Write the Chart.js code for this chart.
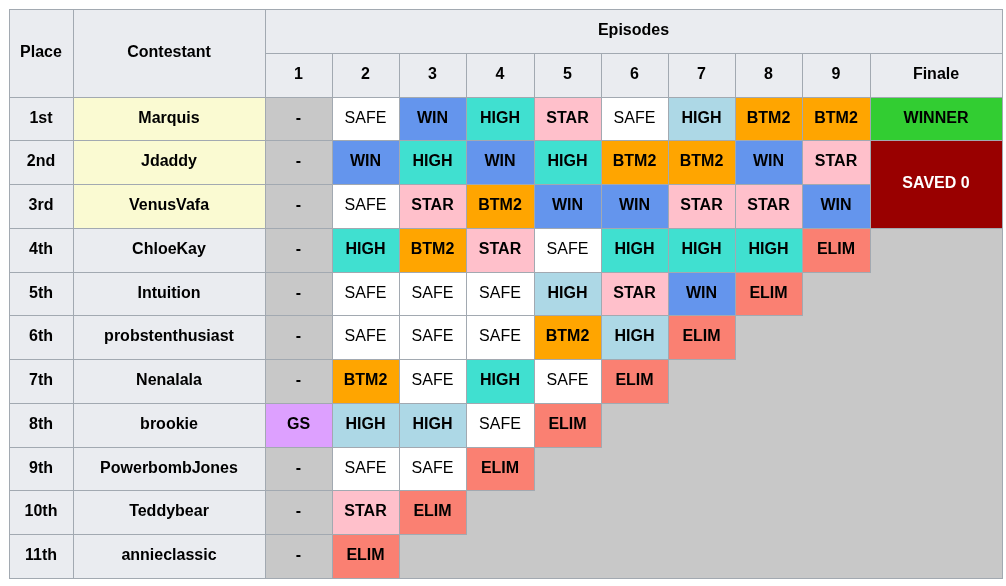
<!DOCTYPE html>
<html><head><meta charset="utf-8">
<script src="https://cdn.jsdelivr.net/npm/chart.js@4"></script>
<style>html,body{margin:0;background:#fff}#wrap{width:1006px;height:586px}</style>
</head><body><div id="wrap"><canvas id="tabla"></canvas></div>
<script>
const places = ["1st","2nd","3rd","4th","5th","6th","7th","8th","9th","10th","11th"];
const contestants = ["Marquis","Jdaddy","VenusVafa","ChloeKay","Intuition","probstenthusiast","Nenalala","brookie","PowerbombJones","Teddybear","annieclassic"];
const episodes = ["1","2","3","4","5","6","7","8","9","Finale"];
// results per contestant, episodes 1..9 then finale ("" = not competing)
const results = [
["-","SAFE","WIN","HIGH","STAR","SAFE","HIGH*","BTM2","BTM2","WINNER"],
["-","WIN","HIGH","WIN","HIGH","BTM2","BTM2","WIN","STAR","SAVED 0"],
["-","SAFE","STAR","BTM2","WIN","WIN","STAR","STAR","WIN","SAVED 0"],
["-","HIGH","BTM2","STAR","SAFE","HIGH","HIGH","HIGH","ELIM",""],
["-","SAFE","SAFE","SAFE","HIGH*","STAR","WIN","ELIM","",""],
["-","SAFE","SAFE","SAFE","BTM2","HIGH*","ELIM","","",""],
["-","BTM2","SAFE","HIGH","SAFE","ELIM","","","",""],
["GS","HIGH*","HIGH*","SAFE","ELIM","","","","",""],
["-","SAFE","SAFE","ELIM","","","","","",""],
["-","STAR","ELIM","","","","","","",""],
["-","ELIM","","","","","","","",""]
];
const colors = {"-":"#c8c8c8","SAFE":"#ffffff","WIN":"#6495ed","HIGH":"#40e0d0","HIGH*":"#add8e6","STAR":"#ffc0cb","BTM2":"#ffa500","ELIM":"#fa8072","GS":"#dda0ff","WINNER":"#32cd32","SAVED 0":"#990000","":"#c8c8c8"};

const colW = [0.955,2.85,1,1,1,1,1,1,1,1,1,1.97];
const edges = [0]; colW.forEach(w => edges.push(edges[edges.length-1]+w));
const nRows = contestants.length + 2;

const tablePlugin = {
  id: "tabla",
  afterDatasetsDraw(chart) {
    const ctx = chart.ctx, xs = chart.scales.x, ys = chart.scales.y;
    const X = c => Math.round(xs.getPixelForValue(edges[c]));
    const Y = r => Math.round(ys.getPixelForValue(r));
    const border = "#a2a9b1";
    function cell(c0, c1, r0, r1, fill, text, bold, color, stroke) {
      const x0 = X(c0), x1 = X(c1), y0 = Y(r0), y1 = Y(r1);
      ctx.fillStyle = fill; ctx.fillRect(x0, y0, x1-x0+1, y1-y0+1);
      if (stroke !== false) { ctx.strokeStyle = border; ctx.lineWidth = 1; ctx.strokeRect(x0+0.5, y0+0.5, x1-x0, y1-y0); }
      if (text) {
        ctx.fillStyle = color || "#000000";
        ctx.font = (bold ? "bold " : "") + "16px 'Liberation Sans', Arial, sans-serif";
        ctx.textAlign = "center"; ctx.textBaseline = "middle";
        ctx.fillText(text, (x0+x1)/2, (y0+y1)/2);
      }
    }
    const hdr = "#eaecf0";
    results.forEach((row,r) => row.forEach((v,i) => {
      if (v === "") cell(2+i,3+i,r+2,r+3,colors[""],"",false,null,false);
    }));
    cell(0,1,0,2,hdr,"Place",true);
    cell(1,2,0,2,hdr,"Contestant",true);
    cell(2,12,0,1,hdr,"Episodes",true);
    episodes.forEach((e,i) => cell(2+i,3+i,1,2,hdr,e,true));
    results.forEach((row,r) => {
      cell(0,1,r+2,r+3,hdr,places[r],true);
      cell(1,2,r+2,r+3,r < 3 ? "#fafad2" : hdr,contestants[r],true);
      row.forEach((v,i) => {
        if (v === "") return;
        if (v === "SAVED 0") { if (r === 1) cell(2+i,3+i,r+2,r+4,colors[v],v,true,"#ffffff"); return; }
        cell(2+i,3+i,r+2,r+3,colors[v],v.replace("*",""),v !== "SAFE");
      });
    });
    ctx.strokeStyle = border;
    ctx.strokeRect(X(0)+0.5, Y(0)+0.5, X(12)-X(0), Y(nRows)-Y(0));
  }
};

new Chart(document.getElementById("tabla"), {
  type: "scatter",
  data: { datasets: [{ data: [], pointRadius: 0 }] },
  options: {
    responsive: true, maintainAspectRatio: false, animation: false,
    layout: { padding: { left: 9, right: 4, top: 9, bottom: 8 } },
    plugins: { legend: { display: false }, tooltip: { enabled: false } },
    scales: {
      x: { type: "linear", min: 0, max: edges[edges.length-1], display: false },
      y: { type: "linear", min: 0, max: nRows, reverse: true, display: false }
    }
  },
  plugins: [tablePlugin]
});
</script></body></html>
